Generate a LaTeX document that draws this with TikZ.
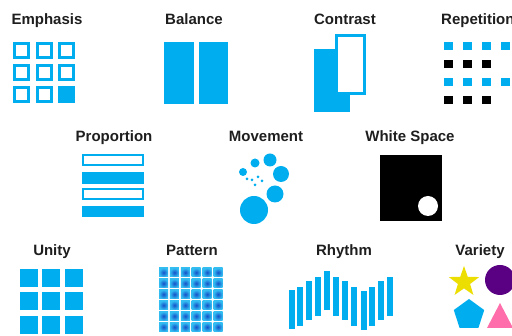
\documentclass[tikz,border=0pt]{standalone}
\usepackage{fontspec}
\setmainfont{Liberation Sans}
\usepackage{tikz}
\usetikzlibrary{shapes.geometric}

\definecolor{dcyan}{RGB}{0,174,239}
\definecolor{pdark}{RGB}{20,80,200}
\definecolor{titlegray}{RGB}{30,30,30}
\definecolor{vyellow}{RGB}{236,222,0}
\definecolor{vpurple}{RGB}{90,0,130}
\definecolor{vpink}{RGB}{255,110,170}

\tikzset{
  title/.style={font=\bfseries\fontsize{15}{18}\selectfont, text=titlegray, anchor=base, inner sep=0pt},
  outlinebox/.style={draw=dcyan, line width=3pt, fill=white},
  solidbox/.style={fill=dcyan},
}

\begin{document}
\begin{tikzpicture}[x=1pt,y=-1pt]
        \useasboundingbox (0,0) rectangle (512,336);
        % 强调
        \node [title] (emph) at (47,25) {Emphasis};
        \foreach \i in {0,1,2}
            \foreach \j in {0,1,2}
                \draw [outlinebox] ({14.5+22.5*\i},{43.5+22*\j}) rectangle ++(14,14);
        \fill [solidbox] (58,86) rectangle ++(17,17);
        % 平衡
        \node [title] (bal) at (194,25) {Balance};
        \fill [solidbox] (164,42) rectangle (194,104);
        \fill [solidbox] (199,42) rectangle (228,104);
        % 对比
        \node [title] (contr) at (345,25) {Contrast};
        \fill [solidbox] (314,49) rectangle (350,112);
        \draw [outlinebox] (336.5,35.5) rectangle (364.5,93.5);
        % 重复
        \node [title, anchor=base west] (rep) at (441,25) {Repetition};
        \foreach \x in {444,463,482,501} {
            \fill [solidbox] (\x,42) rectangle ++(8.5,8.5);
            \fill [solidbox] (\x,78) rectangle ++(8.5,8.5);
        }
        \foreach \x in {444,463,482} {
            \fill [black] (\x,60) rectangle ++(8.5,8.5);
            \fill [black] (\x,96) rectangle ++(8.5,8.5);
        }
        % 比例
        \node [title] (prop) at (114,142) {Proportion};
        \draw [draw=dcyan, line width=2.5pt, fill=white] (83.2,155.2) rectangle (142.8,164.8);
        \fill [solidbox] (82,172) rectangle (144,184);
        \draw [draw=dcyan, line width=2.5pt, fill=white] (83.2,189.2) rectangle (142.8,198.8);
        \fill [solidbox] (82,206) rectangle (144,217);
        % 运动
        \node [title] (move) at (266,142) {Movement};
        \foreach \cx/\cy/\r in {254/210/14, 275/194/8.5, 281/174/8, 270/160/6.5,
                                255/163/4.5, 243/172/4, 247/179/1.5, 252/180/1.5,
                                258/177/1.5, 262/181/1.5, 255/185/1.5}
            \fill [dcyan] (\cx,\cy) circle (\r);
        % 留白
        \node [title] (white) at (410,142) {White Space};
        \fill [black] (380,155) rectangle (442,221);
        \fill [white] (428,206) circle (10);
        % 统一
        \node [title] (unity) at (52,256) {Unity};
        \foreach \x in {20,42,65}
            \foreach \y in {269,292.5,316}
                \fill [solidbox] (\x,\y) rectangle ++(18,18);
        % 图案
        \node [title] (patt) at (192,256) {Pattern};
        \foreach \i in {0,...,5}
            \foreach \j in {0,...,5}
                \shade [inner color=pdark, outer color=dcyan!80]
                    ({159+10.9*\i},{268+10.9*\j}) rectangle ++(9,9);
        % 节奏
        \node [title] (rhythm) at (344,256) {Rhythm};
        \foreach \x/\t in {289/290, 297/287, 306/281, 315/277, 324/271, 333/277,
                           342/281, 351/287, 361/291, 369/287, 378/281, 387/277}
            \fill [solidbox] (\x,\t) rectangle ++(6,39);
        % 多样
        \node [title] (variety) at (480,256) {Variety};
        \node [star, star points=5, star point ratio=2.5, fill=vyellow,
               minimum size=32pt, inner sep=0pt] (star) at (464,282) {};
        \fill [vpurple] (500,280) circle (15);
        \node [regular polygon, regular polygon sides=5, fill=dcyan,
               minimum size=32pt, inner sep=0pt] (pentagon) at (469,315) {};
        \fill [vpink] (487,328) -- (500,303) -- (513,328) -- cycle;
\end{tikzpicture}
\end{document}
